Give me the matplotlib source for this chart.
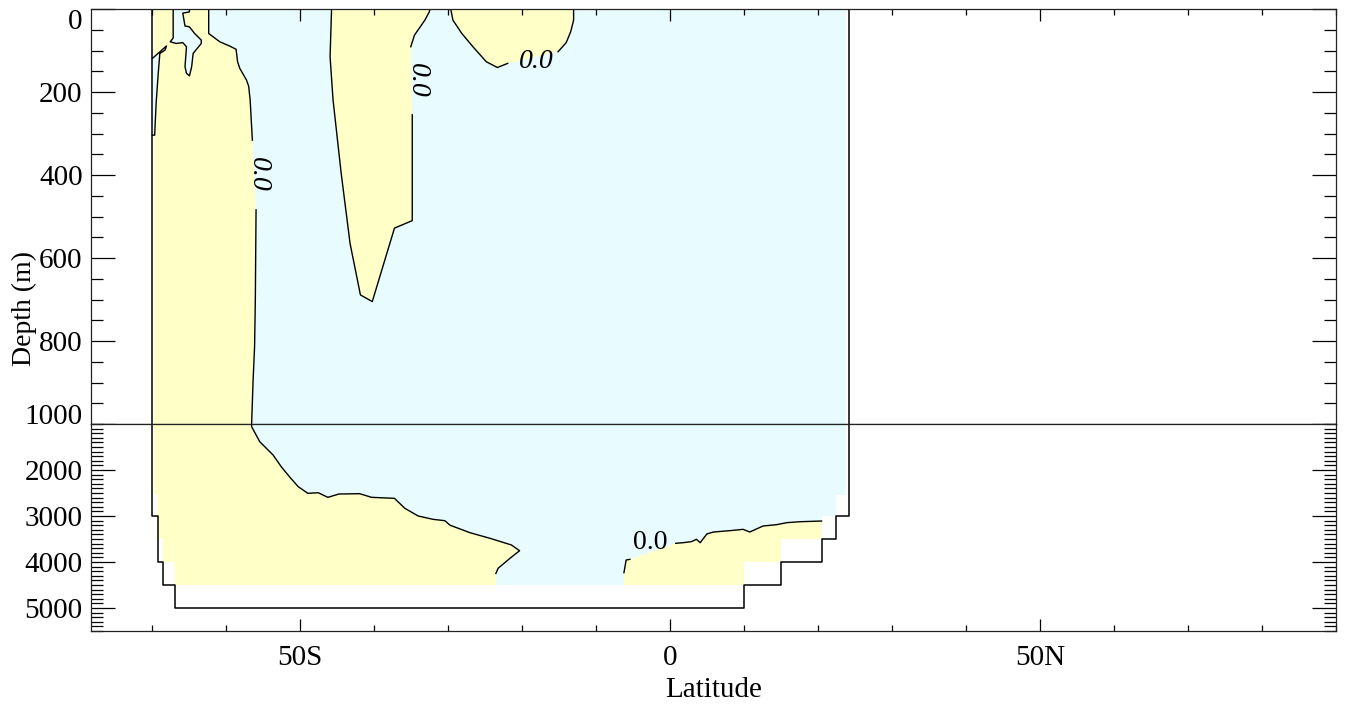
import numpy as np
import matplotlib.pyplot as plt
from matplotlib.ticker import MultipleLocator, FixedLocator

plt.rcParams['font.family'] = ['Liberation Serif', 'DejaVu Serif']
plt.rcParams['font.size'] = 21

YELLOW = '#FFFFC8'
CYAN = '#E8FCFF'

# ocean domain: area that carries data (lat, depth)
domain_lat = [-69.7, -69.7, -69.2, -69.2, -68.5, -68.5, -66.9, -66.9, 10, 10, 15, 15,
              20.5, 20.5, 22.4, 22.4, 23.8, 23.8]
domain_dep = [0, 2540, 2540, 3500, 3500, 4000, 4000, 4500, 4500, 4000, 4000, 3500,
              3500, 3000, 3000, 2540, 2540, 0]

# bottom topography outline
topo_lat = [-69.9, -69.9, -69.2, -69.2, -68.5, -68.5, -66.9, -66.9, 10, 10, 15, 15,
            20.5, 20.5, 22.4, 22.4, 24.2, 24.2]
topo_dep = [0, 3000, 3000, 4000, 4000, 4500, 4500, 5000, 5000, 4500, 4500, 4000,
            4000, 3500, 3500, 3000, 3000, 0]

# zero contour, region A (southern positive tongue), two pieces around the label
a1_lat = [-62.3, -62.3, -60.8, -59.5, -58.6, -58.4, -58.1, -57.2, -56.9, -56.7, -56.4]
a1_dep = [0, 59, 79, 89, 97, 127, 143, 171, 186, 219, 316]
a2_lat = [-55.9, -56.0, -56.1, -56.3, -56.5, -56.5, -55.4, -53.6, -52.5, -51.4, -50.2,
          -48.9, -47.5, -46.2, -44.7, -41.9, -40.3, -37.2, -35.8, -34.0, -32.0, -30.4,
          -29.7, -27.0, -24.3, -21.4, -20.3, -21.6, -23.2, -23.5]
a2_dep = [484, 701, 814, 894, 1000, 1058, 1385, 1674, 1928, 2145, 2363,
          2507, 2494, 2594, 2522, 2515, 2594, 2616, 2833, 3000, 3072, 3102,
          3200, 3363, 3485, 3630, 3755, 3920, 4137, 4250]
a_end_lat = [-23.4, -66.9, -66.9, -68.5, -68.5, -69.2, -69.2, -69.7, -69.7]
a_end_dep = [4500, 4500, 4000, 4000, 3500, 3500, 2540, 2540, 0]

# negative pockets near the Antarctic coast
p1_lat = [-69.9, -68.0, -68.2, -68.9, -69.1, -69.4, -69.6, -69.9]
p1_dep = [119, 89, 99, 107, 151, 227, 304, 304]
p2_lat = [-67.1, -67.1, -67.5, -66.7, -65.8, -65.3, -65.5, -65.3, -64.9, -64.6, -64.4,
          -63.3, -63.3, -64.2, -64.9, -65.5, -65.8, -64.9, -64.9]
p2_dep = [0, 70, 79, 83, 81, 91, 139, 155, 161, 139, 107,
          83, 75, 59, 43, 41, 10, 7, 0]

# region B (mid-latitude tongue)
b1_lat = [-45.7, -45.9, -45.5, -44.4, -43.2, -41.8, -40.2, -37.2, -34.8, -34.8]
b1_dep = [0, 115, 219, 396, 565, 689, 705, 528, 510, 255]
b2_lat = [-35.0, -34.5, -33.1, -32.5, -32.4]
b2_dep = [91, 63, 27, 7, 0]

# region C (subtropical surface blob)
c1_lat = [-29.6, -29.3, -28.1, -26.6, -24.8, -23.3, -21.9]
c1_dep = [0, 27, 59, 91, 127, 141, 131]
c2_lat = [-15.1, -14.0, -13.4, -13.0, -13.0]
c2_dep = [103, 81, 55, 27, 0]

# region D (deep northern positive layer)
d1_lat = [-6.2, -5.9, -5.4]
d1_dep = [4233, 3957, 3942]
d2_lat = [0.8, 1.8, 2.9, 3.6, 4.1, 5.0, 5.9, 8.1, 9.9, 10.8, 12.6, 14.4, 15.8, 17.6, 20.5]
d2_dep = [3594, 3580, 3558, 3507, 3580, 3391, 3348, 3319, 3290, 3348, 3217, 3189,
          3145, 3124, 3109]
d_end_lat = [20.5, 15, 15, 10, 10, -6.2]
d_end_dep = [3500, 3500, 4000, 4000, 4500, 4500]

# contour labels: lat, depth, rotation, italic
lab_lat = [-55.6, -34.1, -18.1, -2.7]
lab_dep = [398, 171, 127, 3576]
lab_rot = [-90, -90, 0, 0]
lab_ital = [True, True, True, False]

lat_ticks = [-50, 0, 50]
lat_names = ['50S', '0', '50N']
top_depths = [0, 200, 400, 600, 800, 1000]
deep_depths = [2000, 3000, 4000, 5000]


def draw_section(ax, dmin, dmax):
    ax.fill(domain_lat, domain_dep, color=CYAN, lw=0)
    ax.fill(a1_lat + a2_lat + a_end_lat, a1_dep + a2_dep + a_end_dep, color=YELLOW, lw=0)
    ax.fill(p1_lat, p1_dep, color=CYAN, lw=0)
    ax.fill(p2_lat, p2_dep, color=CYAN, lw=0)
    ax.fill(b1_lat + b2_lat, b1_dep + b2_dep, color=YELLOW, lw=0)
    ax.fill(c1_lat + c2_lat, c1_dep + c2_dep, color=YELLOW, lw=0)
    ax.fill(d1_lat + d2_lat + d_end_lat, d1_dep + d2_dep + d_end_dep, color=YELLOW, lw=0)

    for xs, ys in [(a1_lat, a1_dep), (a2_lat, a2_dep), (p1_lat, p1_dep), (p2_lat, p2_dep),
                   (b1_lat, b1_dep), (b2_lat, b2_dep), (c1_lat, c1_dep), (c2_lat, c2_dep),
                   (d1_lat, d1_dep), (d2_lat, d2_dep)]:
        ax.plot(xs, ys, color='black', lw=1.0)
    ax.plot(topo_lat, topo_dep, color='black', lw=1.1)

    for x, y, r, it in zip(lab_lat, lab_dep, lab_rot, lab_ital):
        if dmin <= y <= dmax:
            ax.text(x, y, '0.0', rotation=r, ha='center', va='center',
                    style='italic' if it else 'normal', fontsize=20)

    ax.set_xlim(-78.2, 90)
    ax.set_ylim(dmax, dmin)
    ax.xaxis.set_major_locator(FixedLocator(lat_ticks))
    ax.xaxis.set_minor_locator(MultipleLocator(10))
    for s in ax.spines.values():
        s.set_linewidth(0.9)
        s.set_color('#222222')


def style_ticks(ax, xside):
    top = xside == 'top'
    ax.tick_params(axis='x', which='both', direction='in', bottom=not top, top=top,
                   labelbottom=not top, labeltop=False, pad=10)
    ax.tick_params(axis='x', which='major', length=8.6, width=0.9)
    ax.tick_params(axis='x', which='minor', length=4.3, width=0.9)
    ax.tick_params(axis='y', which='both', direction='in', left=True, right=True, pad=6)
    ax.tick_params(axis='y', which='major', length=17.5, width=0.9)
    ax.tick_params(axis='y', which='minor', length=8.6, width=0.9)


fig = plt.figure(figsize=(13.47, 7.04), dpi=100)
W, H = 1347, 704
ax_top = fig.add_axes([91 / W, 1 - 424 / H, 1245 / W, 415 / H])
ax_bot = fig.add_axes([91 / W, 1 - 631 / H, 1245 / W, 207 / H])

# upper 1000 m
draw_section(ax_top, 0, 1000)
ax_top.yaxis.set_major_locator(FixedLocator(top_depths))
ax_top.yaxis.set_minor_locator(MultipleLocator(50))
style_ticks(ax_top, 'top')
ylabs = ax_top.get_yticklabels()
ylabs[0].set_verticalalignment('top')
ylabs[-1].set_verticalalignment('baseline')

# deep ocean, compressed
draw_section(ax_bot, 1000, 5500)
ax_bot.yaxis.set_major_locator(FixedLocator(deep_depths))
ax_bot.yaxis.set_minor_locator(MultipleLocator(100))
ax_bot.set_xticklabels(lat_names)
style_ticks(ax_bot, 'bottom')

fig.text(713.5 / W, 1 - 697 / H, 'Latitude', ha='center', va='baseline', fontsize=21)
fig.text(24 / W, 1 - 309 / H, 'Depth (m)', rotation=90, ha='center', va='center', fontsize=20)

fig.savefig('out.png', dpi=100)
